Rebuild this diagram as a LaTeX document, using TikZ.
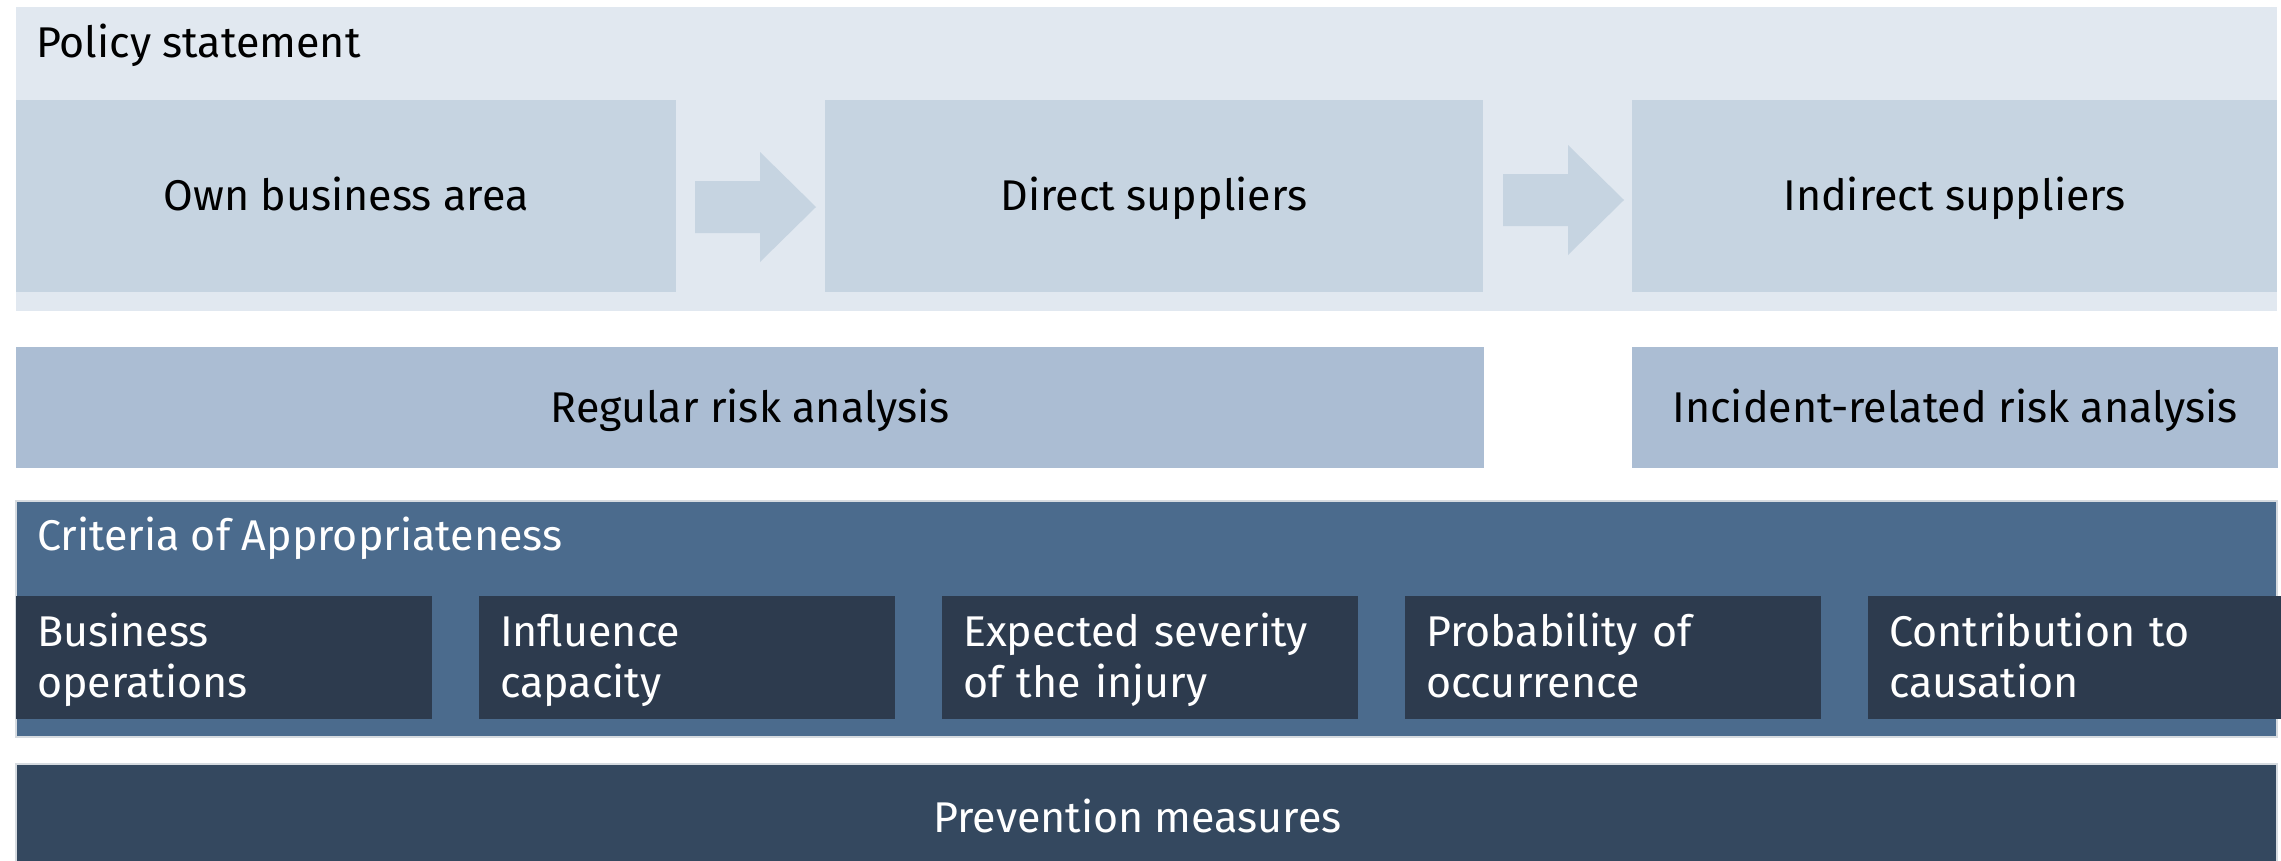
\documentclass[tikz,border=0pt]{standalone}
\usepackage{fontspec}
\setmainfont{Fira Sans}
\usetikzlibrary{positioning, calc}

\definecolor{policybg}{HTML}{E1E8F0}
\definecolor{scopefill}{HTML}{C6D4E1}
\definecolor{riskfill}{HTML}{ABBDD3}
\definecolor{critbg}{HTML}{4B6B8D}
\definecolor{critline}{HTML}{D6DBE0}
\definecolor{critfill}{HTML}{2D3B4E}
\definecolor{prevfill}{HTML}{34485F}

\begin{document}
\begin{tikzpicture}[x=1pt, y=-1pt,
      every node/.style={inner sep=0pt, outer sep=0pt},
      font=\fontsize{43}{51}\selectfont,
      scopebox/.style={fill=scopefill, minimum width=658pt, minimum height=192pt, text height=29pt, text depth=0pt},
      riskbox/.style={fill=riskfill, minimum height=121pt, text height=29pt, text depth=0pt},
      critbox/.style={fill=critfill, minimum width=416pt, minimum height=123pt, text width=374pt, inner xsep=21pt,
        align=left, text=white, text height=29pt, text depth=52pt},
      flow/.style={fill=scopefill},
      node distance=149pt
    ]
    \useasboundingbox[fill=white] (0,0) rectangle (2281,860);

    % policy statement with the three scopes
    \node[fill=policybg, minimum width=2261pt, minimum height=304pt, anchor=north west] (policy) at (16,7) {};
    \node[anchor=base west] (policytitle) at (36,57) {Policy statement};

    \node[scopebox, minimum width=660pt, anchor=north west] (own) at (16,100) {Own business area};
    \node[scopebox, right=of own] (direct) {Direct suppliers};
    \node[scopebox, minimum width=645pt, right=of direct] (indirect) {Indirect suppliers};

    \coordinate (flowa) at ($(own.east)+(19,-15)$);
    \coordinate (flowb) at ($(direct.east)+(20,-22)$);
    \fill[flow] (flowa) -- ++(65,0) -- ++(0,-29) -- ++(56,55) -- ++(-56,55) -- ++(0,-29) -- ++(-65,0) -- cycle;
    \fill[flow] (flowb) -- ++(65,0) -- ++(0,-29) -- ++(56,55) -- ++(-56,55) -- ++(0,-29) -- ++(-65,0) -- cycle;

    % risk analysis
    \node[riskbox, minimum width=1468pt, anchor=north west] (regular) at (16,347) {Regular risk analysis};
    \node[riskbox, minimum width=646pt, right=148pt of regular] (incident) {Incident-related risk analysis};

    % criteria
    \node[fill=critbg, draw=critline, line width=2pt, minimum width=2261pt, minimum height=236pt, anchor=north west] (criteria) at (16,501) {};
    \node[anchor=base west, text=white] (crittitle) at (37,550) {Criteria of Appropriateness};

    \node[critbox, anchor=north west] (business) at (16,596) {Business\\operations};
    \node[critbox, right=47pt of business] (influence) {Influence\\capacity};
    \node[critbox, right=47pt of influence] (severity) {Expected severity\\of the injury};
    \node[critbox, right=47pt of severity] (probability) {Probability of\\occurrence};
    \node[critbox, minimum width=409pt, right=47pt of probability] (causation) {Contribution to\\causation};

    % prevention
    \node[fill=prevfill, draw=critline, line width=2pt, minimum width=2261pt, minimum height=102pt, anchor=north west] (prevention) at (16,764) {};
    \node[text=white, text height=29pt, text depth=0pt] (prevtitle) at ($(prevention.center)+(-9,3)$) {Prevention measures};
  \end{tikzpicture}
\end{document}
